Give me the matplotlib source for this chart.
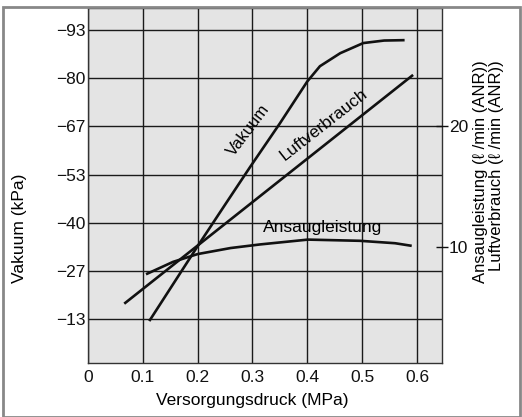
import matplotlib
matplotlib.use("Agg")
import matplotlib.pyplot as plt
from matplotlib.patches import Rectangle

plt.rcParams['font.family'] = ['Liberation Sans', 'DejaVu Sans']

# Data
x_ticks = [0, 0.1, 0.2, 0.3, 0.4, 0.5, 0.6]
x_tick_labels = ["0", "0.1", "0.2", "0.3", "0.4", "0.5", "0.6"]
vac_ticks = [13.33, 26.67, 40.0, 53.33, 66.67, 80.0, 93.33]
vac_tick_labels = ["−13", "−27", "−40", "−53", "−67", "−80", "−93"]
flow_ticks = [10, 20]
flow_tick_labels = ["10", "20"]

vakuum_x = [0.113, 0.199, 0.250, 0.296, 0.350, 0.400, 0.423, 0.460, 0.502, 0.540, 0.575]
vakuum_y = [13.1, 33.3, 45.0, 55.5, 67.5, 79.1, 83.3, 86.9, 89.7, 90.4, 90.5]

luft_x = [0.068, 0.591]
luft_y = [5.35, 24.2]

ansaug_x = [0.108, 0.155, 0.200, 0.260, 0.314, 0.401, 0.496, 0.560, 0.588]
ansaug_y = [7.77, 8.75, 9.4, 9.9, 10.2, 10.6, 10.5, 10.3, 10.1]

fig = plt.figure(figsize=(5.22, 4.17), dpi=100)
W, H = 522, 417
left, right, top, bottom = 88, 442, 8, 363
ax = fig.add_axes([left / W, (H - bottom) / H, (right - left) / W, (bottom - top) / H])
ax.set_facecolor('#e4e4e4')

FS = 12.5
ax.set_xlim(0, 0.6456)
ax.set_ylim(1.2, 99.4)
ax.set_xticks(x_ticks)
ax.set_xticklabels(x_tick_labels)
ax.set_yticks(vac_ticks)
ax.set_yticklabels(vac_tick_labels)
ax.tick_params(axis='both', length=0, labelsize=FS, colors='#111111')
ax.tick_params(axis='x', pad=5)
ax.tick_params(axis='y', pad=2)
ax.grid(True, color='#1a1a1a', linewidth=1.0)
ax.set_axisbelow(True)
for s in ax.spines.values():
    s.set_color('#333333')
    s.set_linewidth(1.0)

ax.plot(vakuum_x, vakuum_y, color='#111111', lw=1.9, zorder=5)

ax2 = ax.twinx()
ax2.set_ylim(1.2 * 0.3, 99.4 * 0.3)
ax2.set_yticks(flow_ticks)
ax2.set_yticklabels(flow_tick_labels)
ax2.tick_params(axis='y', direction='inout', length=8, width=1.0, labelsize=FS, pad=1, colors='#111111')
for s in ax2.spines.values():
    s.set_visible(False)

ax2.plot(luft_x, luft_y, color='#111111', lw=1.9, zorder=5)
ax2.plot(ansaug_x, ansaug_y, color='#111111', lw=1.9, zorder=5)

# Curve labels
ax.text(0.292, 65.5, "Vakuum", rotation=53, fontsize=12, ha='center', va='center')
ax.text(0.430, 67.0, "Luftverbrauch", rotation=38, fontsize=FS, ha='center', va='center')
ax.text(0.427, 38.7, "Ansaugleistung", fontsize=FS, ha='center', va='center')

fig.text(252 / W, 1 - 400 / H, "Versorgungsdruck (MPa)", fontsize=FS, ha='center', va='center')
fig.text(20 / W, 1 - 228 / H, "Vakuum (kPa)", fontsize=FS, ha='center', va='center', rotation=90)

fig.text(481 / W, 1 - 60 / H, "Ansaugleistung (ℓ /min (ANR))",
         rotation=90, fontsize=12, ha='center', va='top')
fig.text(497 / W, 1 - 60 / H, "Luftverbrauch (ℓ /min (ANR))",
         rotation=90, fontsize=12, ha='center', va='top')

# Outer frame
fig.patches.append(Rectangle((3 / W, 0.5 / H), 517 / W, (H - 7.5) / H, transform=fig.transFigure,
                             fill=False, edgecolor='#888888', linewidth=2.0))

fig.savefig("out.png", dpi=100)
